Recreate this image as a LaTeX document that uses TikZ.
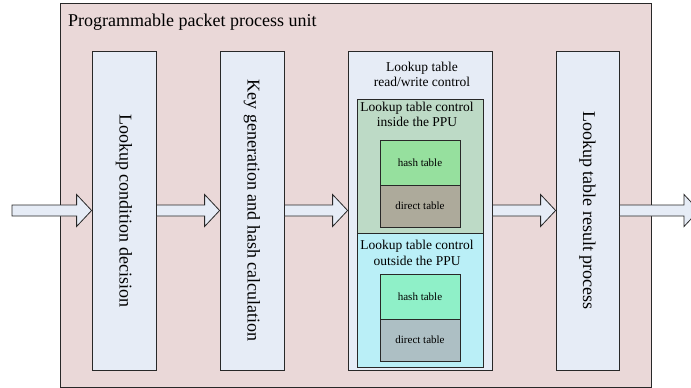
\documentclass[tikz,border=0pt]{standalone}
\usepackage{fontspec}
\setmainfont{Liberation Serif}
\usetikzlibrary{calc}
\definecolor{outerfill}{RGB}{234,216,216}
\definecolor{blockfill}{RGB}{230,236,246}
\definecolor{greenfill}{RGB}{189,218,198}
\definecolor{cyanfill}{RGB}{186,239,247}
\definecolor{hashA}{RGB}{150,224,158}
\definecolor{directA}{RGB}{173,170,155}
\definecolor{hashB}{RGB}{143,240,200}
\definecolor{directB}{RGB}{173,191,196}
\definecolor{edge}{RGB}{40,40,40}
\tikzset{
  blockbox/.style={draw=edge, line width=0.8pt, fill=blockfill, rectangle, inner sep=0pt},
  subbox/.style={draw=edge, line width=0.8pt, rectangle, inner sep=0pt},
  blocktext/.style={font=\fontsize{18}{21}\selectfont, rotate=-90, inner sep=0pt},
  subtitle/.style={font=\fontsize{13.5}{15.5}\selectfont, inner sep=0pt, anchor=base},
  tabletext/.style={font=\fontsize{11}{13}\selectfont, inner sep=0pt},
  fatarrow/.style={draw=edge, line width=0.8pt, fill=blockfill},
}
\newcommand{\fatarr}[2]{%
  \path[fatarrow] let \p1=(#1), \p2=(#2) in
    (\x1,{\y1+5.5pt}) -- ({\x2-15pt},{\y1+5.5pt}) -- ({\x2-15pt},{\y1+16pt}) -- (\x2,\y1)
    -- ({\x2-15pt},{\y1-16pt}) -- ({\x2-15pt},{\y1-5.5pt}) -- (\x1,{\y1-5.5pt}) -- cycle;}
\begin{document}
\begin{tikzpicture}[x=1pt,y=-1pt]
\clip (0,0) rectangle (691,388);
\fill[white] (0,0) rectangle (691,388);
% outer unit
\node[draw=edge, line width=0.9pt, fill=outerfill, rectangle, inner sep=0pt,
      minimum width=591, minimum height=384] (unit) at (355.5,195) {};
\node[font=\fontsize{18}{21}\selectfont, anchor=base west, inner sep=0pt] (title) at (68,26) {Programmable packet process unit};
% blocks
\node[blockbox, minimum width=64, minimum height=319] (b1) at (124,210.5) {};
\node[blocktext] (t1) at (b1.center) {Lookup condition decision};
\node[blockbox, minimum width=64, minimum height=319] (b2) at (252,210.5) {};
\node[blocktext] (t2) at (b2.center) {Key generation and hash calculation};
\node[blockbox, minimum width=144, minimum height=319] (b3) at (420,210.5) {};
\node[subtitle] (t3a) at (422,71) {Lookup table};
\node[subtitle] (t3b) at (422,86) {read/write control};
\node[blockbox, minimum width=63, minimum height=319] (b4) at (587.5,210.5) {};
\node[blocktext] (t4) at (b4.center) {Lookup table result process};
% inside PPU
\node[subbox, fill=greenfill, minimum width=126, minimum height=134] (inside) at (420,166) {};
\node[subtitle] (tina) at (417,111) {Lookup table control};
\node[subtitle] (tinb) at (417,126) {inside the PPU};
\node[subbox, fill=hashA, minimum width=80, minimum height=45] (hashin) at (420,162.5) {};
\node[tabletext] at (hashin.center) {hash table};
\node[subbox, fill=directA, minimum width=80, minimum height=42] (dirin) at (420,206) {};
\node[tabletext] at (dirin.center) {direct table};
% outside PPU
\node[subbox, fill=cyanfill, minimum width=126, minimum height=134] (outside) at (420,300) {};
\node[subtitle] (touta) at (417,249) {Lookup table control};
\node[subtitle] (toutb) at (417,265) {outside the PPU};
\node[subbox, fill=hashB, minimum width=80, minimum height=45] (hashout) at (420,296.5) {};
\node[tabletext] at (hashout.center) {hash table};
\node[subbox, fill=directB, minimum width=80, minimum height=42] (dirout) at (420,340) {};
\node[tabletext] at (dirout.center) {direct table};
% arrows
\coordinate (in) at (12,210.5);
\coordinate (out) at (699,210.5);
\fatarr{in}{b1.west}
\fatarr{b1.east}{b2.west}
\fatarr{b2.east}{b3.west}
\fatarr{b3.east}{b4.west}
\fatarr{b4.east}{out}
\end{tikzpicture}
\end{document}
